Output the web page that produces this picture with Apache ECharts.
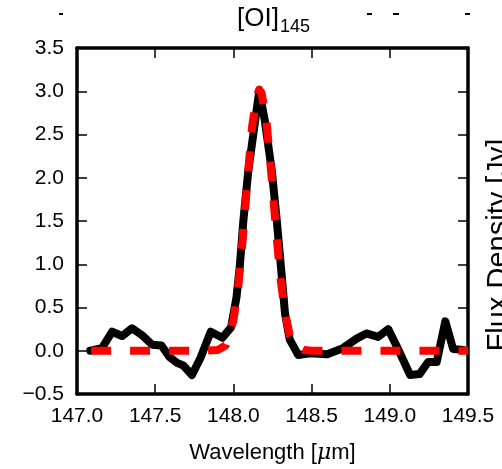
<!DOCTYPE html>
<html><head><meta charset="utf-8">
<script src="https://cdn.jsdelivr.net/npm/echarts@6/dist/echarts.min.js"></script>
<style>html,body{margin:0;padding:0;background:#fff}#c{width:502px;height:469px}</style>
</head><body><div id="c"></div>
<script>
// Observed spectrum
const wavelengthObs = [147.085,147.16,147.224,147.288,147.352,147.416,147.48,147.54,147.59,147.64,147.68,147.735,147.79,147.855,147.93,147.985,148.02,148.042,148.064,148.096,148.14,148.165,148.2,148.245,148.277,148.305,148.33,148.36,148.415,148.49,148.6,148.7,148.788,148.85,148.925,148.99,149.045,149.13,149.19,149.245,149.30,149.355,149.405,149.47];
const fluxObs = [0.0,0.03,0.22,0.17,0.26,0.18,0.07,0.06,-0.07,-0.14,-0.17,-0.28,-0.08,0.22,0.15,0.27,0.62,1.0,1.51,2.09,2.67,3.0,2.67,2.09,1.51,0.95,0.43,0.13,-0.05,-0.03,-0.04,0.03,0.14,0.2,0.16,0.25,0.05,-0.28,-0.27,-0.13,-0.13,0.34,0.02,0.01];
// Gaussian fit
const wavelengthFit = [147.09,147.8,147.9,147.95,148.0,148.03,148.06,148.09,148.12,148.15,148.165,148.18,148.21,148.24,148.27,148.3,148.33,148.36,148.4,148.45,148.5,149.5];
const fluxFit = [0,0,0.01,0.06,0.35,0.72,1.3,1.98,2.6,2.95,3.02,2.98,2.68,2.1,1.45,0.85,0.44,0.18,0.05,0.01,0,0];
const xMin = 147.0, xMax = 149.5, xStep = 0.5;
const yMin = -0.5, yMax = 3.5, yStep = 0.5;
const titleMain = '[OI]', titleSub = '145';
const xLabel = 'Wavelength [', xLabelMu = 'μ', xLabelEnd = 'm]';
const sideLabel = 'Flux Density [Jy]';

const FONT = 'Liberation Sans';
const obs = wavelengthObs.map((w, i) => [w, fluxObs[i]]);
const fit = wavelengthFit.map((w, i) => [w, fluxFit[i]]);
const fmt = v => v.toFixed(1).replace('-', '\u2212');

const frameLine = {show: true, onZero: false, lineStyle: {color: '#000', width: 3.5}};
const ticks = {show: true, inside: true, length: 10, lineStyle: {color: '#000', width: 1.5}};
const lbl = {color: '#000', fontSize: 21, fontFamily: FONT, formatter: fmt};

const chart = echarts.init(document.getElementById('c'), null, {renderer: 'canvas'});
chart.setOption({
  animation: false,
  backgroundColor: '#fff',
  grid: {left: 77, right: 34, top: 48, bottom: 75, containLabel: false},
  xAxis: [
    {type: 'value', position: 'bottom', min: xMin, max: xMax, interval: xStep,
     axisLine: frameLine, axisTick: ticks, splitLine: {show: false},
     axisLabel: Object.assign({margin: 12}, lbl),
     name: '{n|' + xLabel + '}{m|' + xLabelMu + '}{n|' + xLabelEnd + '}',
     nameLocation: 'middle', nameGap: 48,
     nameTextStyle: {rich: {
       n: {fontSize: 22, fontFamily: FONT, color: '#000'},
       m: {fontSize: 22, fontFamily: 'DejaVu Serif', fontStyle: 'italic', color: '#000'}}}},
    {type: 'value', position: 'top', min: xMin, max: xMax, interval: xStep,
     axisLine: frameLine, axisTick: ticks, splitLine: {show: false}, axisLabel: {show: false}}
  ],
  yAxis: [
    {type: 'value', position: 'left', min: yMin, max: yMax, interval: yStep,
     axisLine: frameLine, axisTick: ticks, splitLine: {show: false},
     axisLabel: Object.assign({margin: 13}, lbl)},
    {type: 'value', position: 'right', min: yMin, max: yMax, interval: yStep,
     axisLine: frameLine, axisTick: ticks, splitLine: {show: false}, axisLabel: {show: false}}
  ],
  series: [
    {type: 'line', data: obs, showSymbol: false, symbol: 'none', z: 2,
     lineStyle: {color: '#000', width: 8, join: 'round', cap: 'round'}},
    {type: 'line', data: fit, showSymbol: false, symbol: 'none', z: 3,
     lineStyle: {color: '#ff0000', width: 8, type: [20, 19], join: 'round', cap: 'butt'}}
  ],
  graphic: [
    {type: 'text', x: 279, y: 6, style: {text: titleMain, fontSize: 26, fontFamily: FONT, fill: '#000', align: 'right', verticalAlign: 'top'}},
    {type: 'text', x: 280, y: 18, style: {text: titleSub, fontSize: 18, fontFamily: FONT, fill: '#000', align: 'left', verticalAlign: 'top'}},
    {type: 'text', x: 484, y: 245, rotation: Math.PI / 2, style: {text: sideLabel, fontSize: 29, fontFamily: FONT, fill: '#000', align: 'center', verticalAlign: 'top'}},
    {type: 'rect', shape: {x: 59, y: 13, width: 4, height: 2}, style: {fill: '#000'}},
    {type: 'rect', shape: {x: 367, y: 13, width: 5, height: 2}, style: {fill: '#000'}},
    {type: 'rect', shape: {x: 393, y: 13, width: 6, height: 2}, style: {fill: '#000'}},
    {type: 'rect', shape: {x: 465, y: 13, width: 5, height: 2}, style: {fill: '#000'}}
  ]
});
</script></body></html>
